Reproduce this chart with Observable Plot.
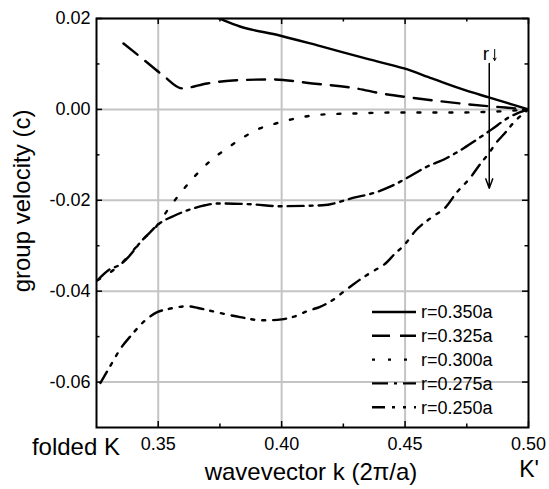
<!DOCTYPE html>
<html><head><meta charset="utf-8">
<script src="https://cdn.jsdelivr.net/npm/d3@7"></script>
<script src="https://cdn.jsdelivr.net/npm/@observablehq/plot@0.6"></script>
<style>body{margin:0;background:#fff}</style>
</head><body><div id="chart"></div>
<script>
// ---- data ----
const k350 = [0.370, 0.3746, 0.3831, 0.3992, 0.4153, 0.4355, 0.4496, 0.4609, 0.4746, 0.4839, 0.500];
const v350 = [0.0210, 0.0200, 0.01824, 0.01626, 0.01396, 0.01099, 0.00901, 0.00681, 0.00418, 0.00264, 0.0];

const k325 = [0.3359, 0.3440, 0.3520, 0.3597, 0.3698, 0.3802, 0.3964, 0.4125, 0.4302, 0.4403, 0.4516, 0.4625, 0.4758, 0.4907, 0.500];
const v325 = [0.01451, 0.01099, 0.00747, 0.00462, 0.00571, 0.00637, 0.00659, 0.00571, 0.00462, 0.00352, 0.00264, 0.0019, 0.0011, 0.0004, 0.0];

const k300 = [0.3254, 0.3347, 0.3435, 0.3496, 0.3540, 0.3589, 0.3645, 0.3710, 0.3778, 0.3843, 0.3911, 0.3976, 0.4040, 0.4105, 0.4173, 0.4302, 0.4435, 0.4677, 0.4899, 0.500];
const v300 = [-0.0376, -0.0341, -0.0288, -0.0255, -0.0220, -0.0185, -0.0149, -0.0114, -0.0086, -0.0062, -0.0042, -0.0031, -0.0022, -0.0015, -0.0011, -0.0009, -0.0007, -0.0007, -0.0004, 0.0];

const k275 = [0.3254, 0.3298, 0.3347, 0.3379, 0.3435, 0.3468, 0.3496, 0.3569, 0.3609, 0.3690, 0.3738, 0.3883, 0.3992, 0.4165, 0.4302, 0.4367, 0.4444, 0.4504, 0.4585, 0.4665, 0.4718, 0.4786, 0.4851, 0.4919, 0.500];
const v275 = [-0.0376, -0.0354, -0.0341, -0.0325, -0.0288, -0.0270, -0.0255, -0.0233, -0.0224, -0.0211, -0.0207, -0.0209, -0.0213, -0.0211, -0.0193, -0.0185, -0.0169, -0.0152, -0.0127, -0.0108, -0.0092, -0.0068, -0.0044, -0.0018, 0.0];

const k250 = [0.3266, 0.3315, 0.3343, 0.3391, 0.3448, 0.3496, 0.3536, 0.3581, 0.3617, 0.3661, 0.3702, 0.3750, 0.3831, 0.3919, 0.3952, 0.4000, 0.4044, 0.4113, 0.4153, 0.4206, 0.4254, 0.4286, 0.4327, 0.4371, 0.4423, 0.4456, 0.4496, 0.4544, 0.4609, 0.4665, 0.4706, 0.4766, 0.4806, 0.4839, 0.4867, 0.4903, 0.4940, 0.500];
const v250 = [-0.0602, -0.0556, -0.0530, -0.0497, -0.0464, -0.0446, -0.0440, -0.0435, -0.0433, -0.0437, -0.0442, -0.0448, -0.0457, -0.0464, -0.0464, -0.0462, -0.0457, -0.0442, -0.0435, -0.0420, -0.0400, -0.0387, -0.0371, -0.0356, -0.0338, -0.0319, -0.0299, -0.0266, -0.0237, -0.0215, -0.0185, -0.0149, -0.0119, -0.0097, -0.0075, -0.0053, -0.0029, 0.0];

const seriesNames = ["r=0.350a", "r=0.325a", "r=0.300a", "r=0.275a", "r=0.250a"];

const xMajor = [0.35, 0.40, 0.45, 0.50];
const xMinor = [0.375, 0.425, 0.475];
const yMajor = [-0.06, -0.04, -0.02, 0.00, 0.02];
const yMinor = [-0.05, -0.03, -0.01, 0.01];

// annotation: the "r decreasing" arrows (k, v from, v to)
const arrowK = [0.4841, 0.4863];
const arrowV1 = [0.0101, 0.01319];
const arrowV2 = [-0.01736, 0.01077];
const rLabelK = [0.4827];
const rLabelV = [0.01077];

// ---- build tables ----
const zip = (ks, vs) => ks.map((k, i) => ({k, v: vs[i]}));
const dashes = [null, "18,10", "3,13", "16,6,3,6", "13,7,3,8,3,8"];
const series = [zip(k350, v350), zip(k325, v325), zip(k300, v300), zip(k275, v275), zip(k250, v250)];

const W = 549, H = 489;
const mL = 96, mR = 21, mT = 18, mB = 62;
const pW = W - mL - mR, pH = H - mT - mB;
const font = "'Liberation Sans', Arial, Helvetica, sans-serif";
const fmt = d => d.toFixed(2);

const lineMarks = series.map((data, i) => Plot.line(data, {
  x: "k", y: "v", curve: "monotone-x", stroke: "black", strokeWidth: 2.4,
  strokeDasharray: dashes[i] || undefined, clip: true
}));

const bigArrow = [{k: arrowK[0], v1: arrowV1[0], v2: arrowV2[0]}];
const smallArrow = [{k: arrowK[1], v1: arrowV1[1], v2: arrowV2[1]}];

const plot = Plot.plot({
  width: W, height: H,
  marginLeft: mL, marginRight: mR, marginTop: mT, marginBottom: mB,
  style: {fontFamily: font, background: "white", color: "black"},
  x: {domain: [0.325, 0.5]},
  y: {domain: [-0.07, 0.02]},
  marks: [
    Plot.gridX(xMajor.slice(0, 3), {stroke: "#c4c4c4", strokeOpacity: 1, strokeWidth: 2}),
    Plot.gridY(yMajor, {stroke: "#c4c4c4", strokeOpacity: 1, strokeWidth: 2}),
    ...lineMarks,
    // inward ticks on all four sides
    Plot.tickX(xMajor, {x: d => d, insetTop: pH - 6, stroke: "black", strokeWidth: 1.5}),
    Plot.tickX(xMajor, {x: d => d, insetBottom: pH - 6, stroke: "black", strokeWidth: 1.5}),
    Plot.tickX(xMinor, {x: d => d, insetTop: pH - 3.5, stroke: "black", strokeWidth: 1.5}),
    Plot.tickX(xMinor, {x: d => d, insetBottom: pH - 3.5, stroke: "black", strokeWidth: 1.5}),
    Plot.tickY(yMajor, {y: d => d, insetRight: pW - 6, stroke: "black", strokeWidth: 1.5}),
    Plot.tickY(yMajor, {y: d => d, insetLeft: pW - 6, stroke: "black", strokeWidth: 1.5}),
    Plot.tickY(yMinor, {y: d => d, insetRight: pW - 3.5, stroke: "black", strokeWidth: 1.5}),
    Plot.tickY(yMinor, {y: d => d, insetLeft: pW - 3.5, stroke: "black", strokeWidth: 1.5}),
    Plot.frame({stroke: "black", strokeWidth: 2}),
    Plot.axisX(xMajor, {tickSize: 0, tickPadding: 10, tickFormat: fmt, fontSize: 18, label: null}),
    Plot.axisY(yMajor, {tickSize: 0, tickPadding: 6, tickFormat: fmt, fontSize: 18, label: null}),
    Plot.arrow(bigArrow, {x1: "k", x2: "k", y1: "v1", y2: "v2", stroke: "black", strokeWidth: 1.5, headLength: 10, headAngle: 40}),
    Plot.arrow(smallArrow, {x1: "k", x2: "k", y1: "v1", y2: "v2", stroke: "black", strokeWidth: 1, headLength: 4, headAngle: 60}),
    Plot.text(rLabelK.map((k, i) => ({k, v: rLabelV[i]})), {x: "k", y: "v", text: () => "r", fontSize: 19, lineAnchor: "bottom", textAnchor: "middle", fill: "black"})
  ]
});

document.getElementById("chart").appendChild(plot);
const svg = d3.select(plot);

// legend
const legX1 = 372, legX2 = 416, legTx = 421, legY0 = 312, legDy = 23.8;
seriesNames.forEach((name, i) => {
  const y = legY0 + i * legDy;
  svg.append("line").attr("x1", legX1).attr("x2", legX2).attr("y1", y).attr("y2", y)
    .attr("stroke", "black").attr("stroke-width", 2.4)
    .attr("stroke-dasharray", dashes[i] || null);
  svg.append("text").attr("x", legTx).attr("y", y).attr("dy", "0.36em")
    .attr("text-anchor", "start")
    .attr("font-size", 18).attr("font-family", font).attr("fill", "black").text(name);
});

// axis titles & special labels
svg.append("text").attr("x", 311).attr("y", 480).attr("text-anchor", "middle")
  .attr("font-size", 24).attr("font-family", font).attr("fill", "black").text("wavevector k (2\u03C0/a)");
svg.append("text").attr("transform", "translate(30,201) rotate(-90)").attr("text-anchor", "middle")
  .attr("font-size", 24).attr("font-family", font).attr("fill", "black").text("group velocity (c)");
svg.append("text").attr("x", 120).attr("y", 455).attr("text-anchor", "end")
  .attr("font-size", 24).attr("font-family", font).attr("fill", "black").text("folded K");
svg.append("text").attr("x", 529).attr("y", 477).attr("text-anchor", "middle")
  .attr("font-size", 23).attr("font-family", font).attr("fill", "black").text("K'");
</script>
</body></html>
